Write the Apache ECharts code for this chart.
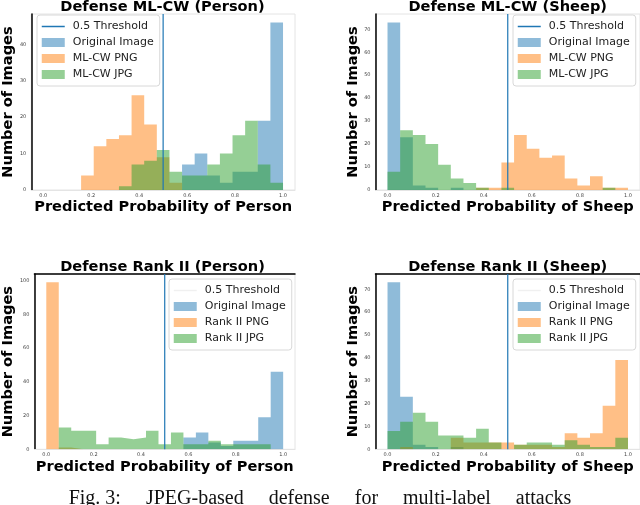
<!DOCTYPE html>
<html>
<head>
<meta charset="utf-8">
<script src="https://cdn.jsdelivr.net/npm/echarts@6/dist/echarts.min.js"></script>
<style>
  html, body { margin: 0; padding: 0; background: #fff; }
  #main { width: 640px; height: 505px; }
</style>
</head>
<body>
<div id="main"></div>
<script>
// histograms use 19 equal bins between 0 and 1, counts listed left to right
var binCount = 19;
var threshold = 0.5;
var xTicks = [0, 0.2, 0.4, 0.6, 0.8, 1.0];

var titles = ['Defense ML-CW (Person)', 'Defense ML-CW (Sheep)', 'Defense Rank II (Person)', 'Defense Rank II (Sheep)'];
var xNames = ['Predicted Probability of Person', 'Predicted Probability of Sheep', 'Predicted Probability of Person', 'Predicted Probability of Sheep'];
var seriesNames = [
  ['Original Image', 'ML-CW PNG', 'ML-CW JPG'],
  ['Original Image', 'ML-CW PNG', 'ML-CW JPG'],
  ['Original Image', 'Rank II PNG', 'Rank II JPG'],
  ['Original Image', 'Rank II PNG', 'Rank II JPG']
];

var personOriginal = [0, 0, 0, 0, 0, 0, 0, 0, 0, 0, 0, 7, 10, 4, 2, 5, 5, 19, 46];
var sheepOriginal  = [73, 23, 2, 1, 0, 1, 0, 0, 0, 0, 0, 0, 0, 0, 0, 0, 0, 0, 0];

var mlcwPersonPng = [0, 0, 0, 4, 12, 14, 15, 26, 18, 9, 2, 0, 0, 0, 0, 0, 0, 0, 0];
var mlcwPersonJpg = [0, 0, 0, 0, 0, 0, 1, 7, 8, 11, 5, 4, 4, 7, 10, 15, 19, 7, 2];
var mlcwSheepPng  = [0, 0, 0, 0, 0, 0, 0, 1, 1, 12, 24, 18, 14, 15, 5, 2, 6, 1, 1];
var mlcwSheepJpg  = [8, 26, 24, 20, 11, 5, 3, 1, 0, 1, 0, 0, 0, 0, 0, 0, 0, 1, 0];
var rankPersonPng = [99, 1, 0, 0, 0, 0, 0, 0, 0, 0, 0, 0, 0, 0, 0, 0, 0, 0, 0];
var rankPersonJpg = [0, 13, 11, 11, 3, 7, 6, 7, 11, 3, 10, 3, 3, 5, 3, 3, 3, 3, 0];
var rankSheepPng  = [0, 1, 0, 0, 0, 5, 3, 3, 3, 3, 2, 2, 2, 1, 7, 5, 7, 19, 39];
var rankSheepJpg  = [8, 12, 16, 12, 6, 6, 5, 9, 3, 0, 2, 3, 3, 2, 4, 2, 1, 1, 5];

var yTicks = [
  [0, 10, 20, 30, 40],
  [0, 10, 20, 30, 40, 50, 60, 70],
  [0, 20, 40, 60, 80, 100],
  [0, 10, 20, 30, 40, 50, 60, 70]
];

var panelData = [
  [personOriginal, mlcwPersonPng, mlcwPersonJpg],
  [sheepOriginal, mlcwSheepPng, mlcwSheepJpg],
  [personOriginal, rankPersonPng, rankPersonJpg],
  [sheepOriginal, rankSheepPng, rankSheepJpg]
];

// layout
var colors = ['#1f77b4', '#ff7f0e', '#2ca02c'];
var grids = [
  { left: 30, top: 14, width: 265, height: 176 },
  { left: 375.5, top: 14, width: 264.5, height: 176 },
  { left: 30, top: 274, width: 265, height: 175.3 },
  { left: 375.5, top: 274, width: 264.5, height: 175.3 }
];
var legendPos = [
  { left: 37, top: 15 },
  { left: 513, top: 15 },
  { left: 169, top: 279 },
  { left: 513, top: 279 }
];
var titleTop = [0, 0, 260, 260];
var font = 'DejaVu Sans';
var boldSize = 14.6;

function stepData(counts) {
  var pts = counts.map(function (c, k) { return [k / binCount, c]; });
  pts.push([1, counts[counts.length - 1]]);
  return pts;
}

function rgba(hex, a) {
  var n = parseInt(hex.slice(1), 16);
  return 'rgba(' + (n >> 16) + ',' + ((n >> 8) & 255) + ',' + (n & 255) + ',' + a + ')';
}

var option = {
  animation: false,
  backgroundColor: '#fff',
  title: [], grid: [], xAxis: [], yAxis: [], legend: [], series: [],
  graphic: [{
    type: 'text', left: 'center', top: 489,
    style: { text: 'Fig. 3:     JPEG-based     defense     for     multi-label     attacks', font: '20px "Liberation Serif"', fill: '#111' }
  }]
};

for (var p = 0; p < 4; p++) {
  var g = grids[p];
  var yMax = Math.max.apply(null, panelData[p][0].concat(panelData[p][1], panelData[p][2])) * 1.05;

  option.grid.push({ left: g.left, top: g.top, width: g.width, height: g.height, show: true, borderColor: '#e4e4e4', borderWidth: 1 });

  option.title.push({
    text: titles[p], left: g.left + g.width / 2, top: titleTop[p], textAlign: 'center', padding: 0,
    textStyle: { fontFamily: font, fontWeight: 'bold', fontSize: boldSize, color: '#000' }
  });

  option.xAxis.push({
    type: 'value', gridIndex: p, min: -0.05, max: 1.05,
    name: xNames[p], nameLocation: 'middle', nameGap: 10,
    nameTextStyle: { fontFamily: font, fontWeight: 'bold', fontSize: boldSize, color: '#000' },
    axisLine: { show: true, onZero: false, lineStyle: { color: '#e4e4e4', width: 1 } },
    axisTick: { show: false, customValues: xTicks },
    axisLabel: { customValues: xTicks, fontSize: 5, color: '#444', margin: 3, fontFamily: font,
      formatter: function (v) { return v.toFixed(1); } },
    splitLine: { show: false }
  });

  option.yAxis.push({
    type: 'value', gridIndex: p, min: 0, max: yMax,
    name: 'Number of Images', nameLocation: 'middle', nameGap: 12,
    nameTextStyle: { fontFamily: font, fontWeight: 'bold', fontSize: boldSize, color: '#000' },
    axisLine: { show: true, onZero: false, lineStyle: { color: '#000', width: 1.5 } },
    axisTick: { show: false, customValues: yTicks[p] },
    axisLabel: { customValues: yTicks[p], fontSize: 5, color: '#444', margin: 5, fontFamily: font },
    splitLine: { show: false }
  });

  var legendData = [{
    name: '0.5 Threshold',
    itemStyle: { color: 'rgba(0,0,0,0)', opacity: 0, borderWidth: 0 },
    lineStyle: p >= 2 ? { color: '#f0f0f0', width: 1.5 } : { color: colors[0], width: 1.5 }
  }];

  for (var s = 0; s < 3; s++) {
    option.series.push({
      type: 'line', name: seriesNames[p][s], xAxisIndex: p, yAxisIndex: p,
      step: 'end', showSymbol: false, symbol: 'none', silent: true,
      data: stepData(panelData[p][s]),
      color: colors[s],
      lineStyle: { opacity: 0, width: 0 },
      areaStyle: { color: colors[s], opacity: 0.5 },
      emphasis: { disabled: true }
    });
    legendData.push({ name: seriesNames[p][s], icon: 'rect', itemStyle: { color: rgba(colors[s], 0.5) } });
  }

  option.series.push({
    type: 'line', name: '0.5 Threshold', xAxisIndex: p, yAxisIndex: p,
    symbol: 'none', silent: true,
    data: [[threshold, 0], [threshold, yMax]],
    color: colors[0],
    lineStyle: { color: colors[0], width: 1.2 },
    emphasis: { disabled: true }
  });

  option.legend.push({
    orient: 'vertical', left: legendPos[p].left, top: legendPos[p].top,
    data: legendData, selectedMode: false,
    itemWidth: 23, itemHeight: 9, itemGap: 5,
    padding: [6, 6, 6, 4],
    backgroundColor: 'rgba(255,255,255,0.8)', borderColor: '#d8d8d8', borderWidth: 1, borderRadius: 3,
    textStyle: { fontFamily: font, fontSize: 11, color: '#222', padding: [0, 0, 0, 3] }
  });
}

// black top frame for the lower row
[2, 3].forEach(function (p) {
  option.xAxis.push({
    type: 'value', gridIndex: p, position: 'top', min: -0.05, max: 1.05,
    axisLine: { show: true, onZero: false, lineStyle: { color: '#000', width: 1.5 } },
    axisTick: { show: false }, axisLabel: { show: false }, splitLine: { show: false }
  });
});

var myChart = echarts.init(document.getElementById('main'));
myChart.setOption(option);
</script>
</body>
</html>
